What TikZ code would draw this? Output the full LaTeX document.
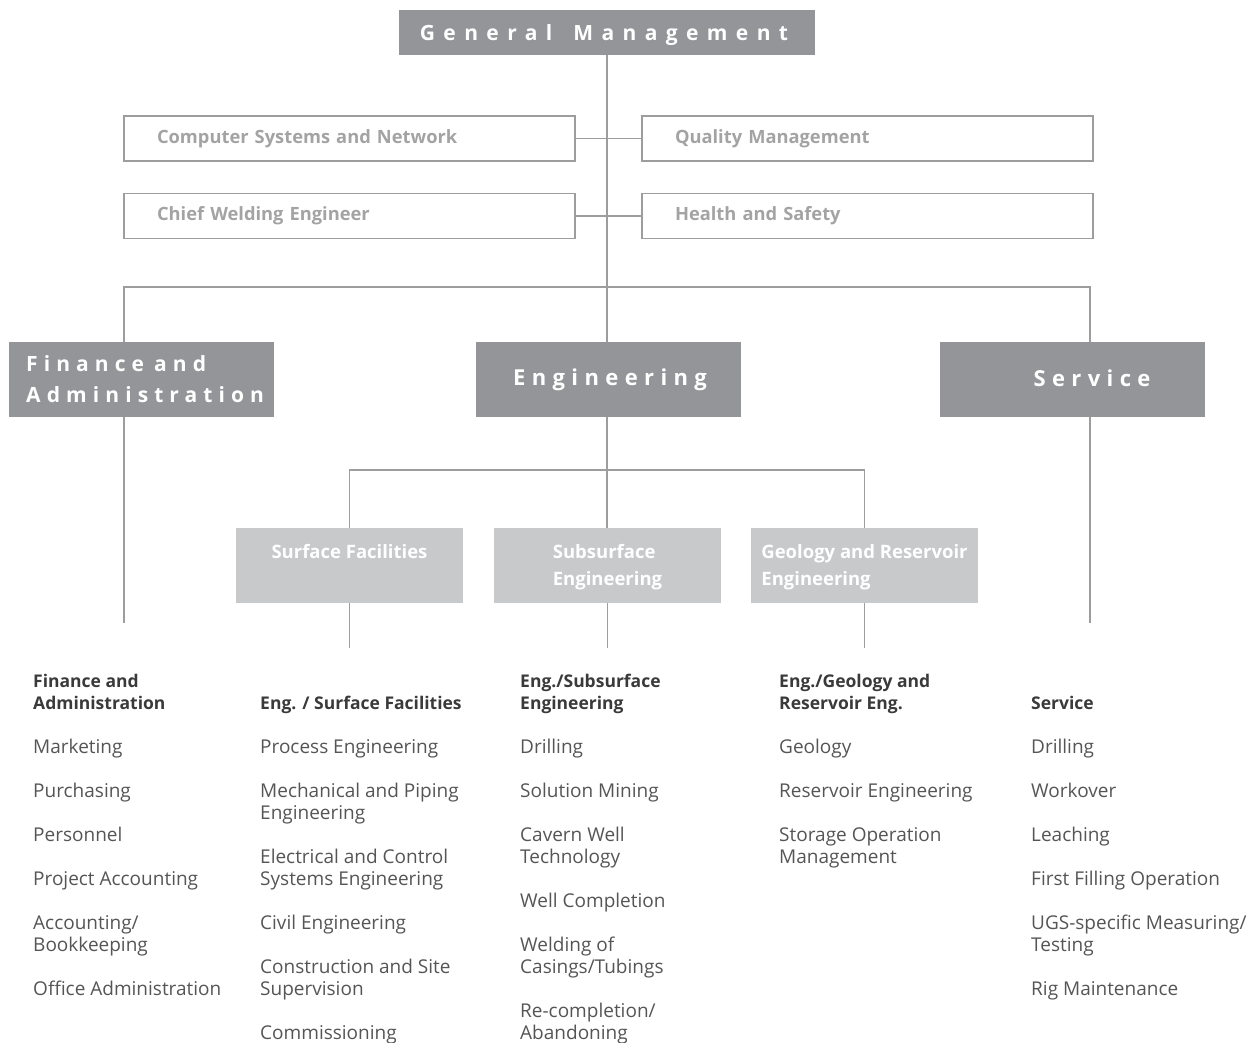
\documentclass[tikz,border=0pt]{standalone}
\usepackage{fontspec}
\setmainfont{Open Sans}
\newfontfamily\gmfont{Open Sans}[LetterSpace=40]
\newfontfamily\divfont{Open Sans}[LetterSpace=29]
\definecolor{boxdark}{HTML}{939598}
\definecolor{boxlight}{HTML}{C8C9CB}
\definecolor{linegray}{HTML}{9D9D9D}
\definecolor{stafftext}{HTML}{A3A3A3}
\definecolor{headtext}{HTML}{3A3A3A}
\definecolor{itemtext}{HTML}{555555}
\newcommand{\wsp}{\hspace{10pt}}
\newcommand{\gwsp}{\hspace{21pt}}
\begin{document}
\begin{tikzpicture}[x=1pt,y=-1pt,
  line/.style={draw=linegray, line width=1.3pt},
  gmbox/.style={fill=boxdark, minimum width=416pt, minimum height=45pt, inner sep=0pt},
  gmtext/.style={inner sep=0pt, text=white, font=\gmfont\fontsize{21}{24}\selectfont\bfseries},
  divbox/.style={fill=boxdark, minimum width=265pt, minimum height=75pt, inner sep=0pt},
  divtext/.style={inner sep=0pt, text=white, font=\divfont\fontsize{22}{31}\selectfont\bfseries},
  staffbox/.style={draw=linegray, line width=1.3pt, minimum width=451pt, minimum height=45pt,
    text width=385pt, inner xsep=33pt, inner ysep=0pt, align=left, text=stafftext,
    font=\fontsize{18.3}{22}\selectfont\bfseries},
  subbox/.style={fill=boxlight, minimum width=227pt, minimum height=75pt, inner sep=0pt},
  subtext/.style={inner sep=0pt, align=left, text=white, font=\fontsize{18.5}{27}\selectfont\bfseries},
  head/.style={inner sep=0pt, align=left, text=headtext, font=\fontsize{17.5}{22}\selectfont\bfseries},
  items/.style={inner sep=0pt, align=left, text=itemtext, font=\fontsize{19}{22}\selectfont}
]
\useasboundingbox (0,0) rectangle (1249,1042);

% top
\node[gmbox] (gm) at (607,32.5) {};
\node[gmtext] (gmt) at (604,35) {General\gwsp Management};

% staff boxes
\node[staffbox] (csn) at (349.5,138.5) {Computer Systems and Network};
\node[staffbox] (cwe) at (349.5,216) {Chief Welding Engineer};
\node[staffbox] (qm) at (867.5,138.5) {Quality Management};
\node[staffbox] (hs) at (867.5,216) {Health and Safety};

% divisions
\node[divbox] (fa) at (141.5,379.5) {};
\node[divbox] (eng) at (608.5,379.5) {};
\node[divbox] (svc) at (1072.5,379.5) {};
\node[divtext, font=\divfont\fontsize{21}{31}\selectfont\bfseries, align=left, anchor=west] (fat) at (26,379.5) {Finance\wsp and\\Administration};
\node[divtext] (engt) at (610,380) {Engineering};
\node[divtext] (svct) at (1092,378.5) {Service};

% engineering sub units
\node[subbox] (sf) at (349.5,565.5) {};
\node[subbox] (ss) at (607.5,565.5) {};
\node[subbox] (ge) at (864.5,565.5) {};
\node[subtext, anchor=north] (sft) at ([yshift=-16pt]sf.north) {Surface Facilities};
\node[subtext, anchor=north] (sst) at ([yshift=-16pt]ss.north) {Subsurface\\Engineering};
\node[subtext, anchor=north] (get) at ([yshift=-16pt]ge.north) {Geology and Reservoir\\Engineering};

% connectors
\coordinate (bus) at (607,287);
\coordinate (faX) at (124,0);
\coordinate (svX) at (1090,0);
\coordinate (faEnd) at (124,623);
\coordinate (svEnd) at (1090,623);
\coordinate (ebus) at (607,470);
\coordinate (sfEnd) at (349.5,648);
\coordinate (ssEnd) at (607.5,648);
\coordinate (geEnd) at (864.5,648);

\draw[line] (gm.south) -- (gm.south |- eng.north);
\draw[line] (csn.east) -- (qm.west);
\draw[line] (cwe.east) -- (hs.west);
\draw[line] (fa.north -| faX) |- (bus) -| (svc.north -| svX);
\draw[line] (fa.south -| faEnd) -- (faEnd);
\draw[line] (svc.south -| svEnd) -- (svEnd);
\draw[line] (eng.south -| ebus) -- (ebus);
\draw[line] (sf.north) |- (ebus) -| (ge.north);
\draw[line] (ebus) -- (ss.north -| ebus);
\draw[line] (sf.south) -- (sfEnd);
\draw[line] (ss.south) -- (ssEnd);
\draw[line] (ge.south) -- (geEnd);

% column headings
\node[head, anchor=south west] (h1) at (33,716.6) {Finance and\\Administration\strut};
\node[head, anchor=south west] (h2) at (260,716.6) {Eng. / Surface Facilities\strut};
\node[head, anchor=south west] (h3) at (520,716.6) {Eng./Subsurface\\Engineering\strut};
\node[head, anchor=south west] (h4) at (779,716.6) {Eng./Geology and\\Reservoir Eng.\strut};
\node[head, anchor=south west] (h5) at (1031,716.6) {Service\strut};

% column items
\node[items, anchor=north west] (l1) at (33,737.6) {\strut Marketing\\[22pt]Purchasing\\[22pt]Personnel\\[22pt]Project Accounting\\[22pt]Accounting/\\Bookkeeping\\[22pt]Office Administration};
\node[items, anchor=north west] (l2) at (260,737.6) {\strut Process Engineering\\[22pt]Mechanical and Piping\\Engineering\\[22pt]Electrical and Control\\Systems Engineering\\[22pt]Civil Engineering\\[22pt]Construction and Site\\Supervision\\[22pt]Commissioning};
\node[items, anchor=north west] (l3) at (520,737.6) {\strut Drilling\\[22pt]Solution Mining\\[22pt]Cavern Well\\Technology\\[22pt]Well Completion\\[22pt]Welding of\\Casings/Tubings\\[22pt]Re-completion/\\Abandoning};
\node[items, anchor=north west] (l4) at (779,737.6) {\strut Geology\\[22pt]Reservoir Engineering\\[22pt]Storage Operation\\Management};
\node[items, anchor=north west] (l5) at (1031,737.6) {\strut Drilling\\[22pt]Workover\\[22pt]Leaching\\[22pt]First Filling Operation\\[22pt]UGS-specific Measuring/\\Testing\\[22pt]Rig Maintenance};
\end{tikzpicture}
\end{document}
